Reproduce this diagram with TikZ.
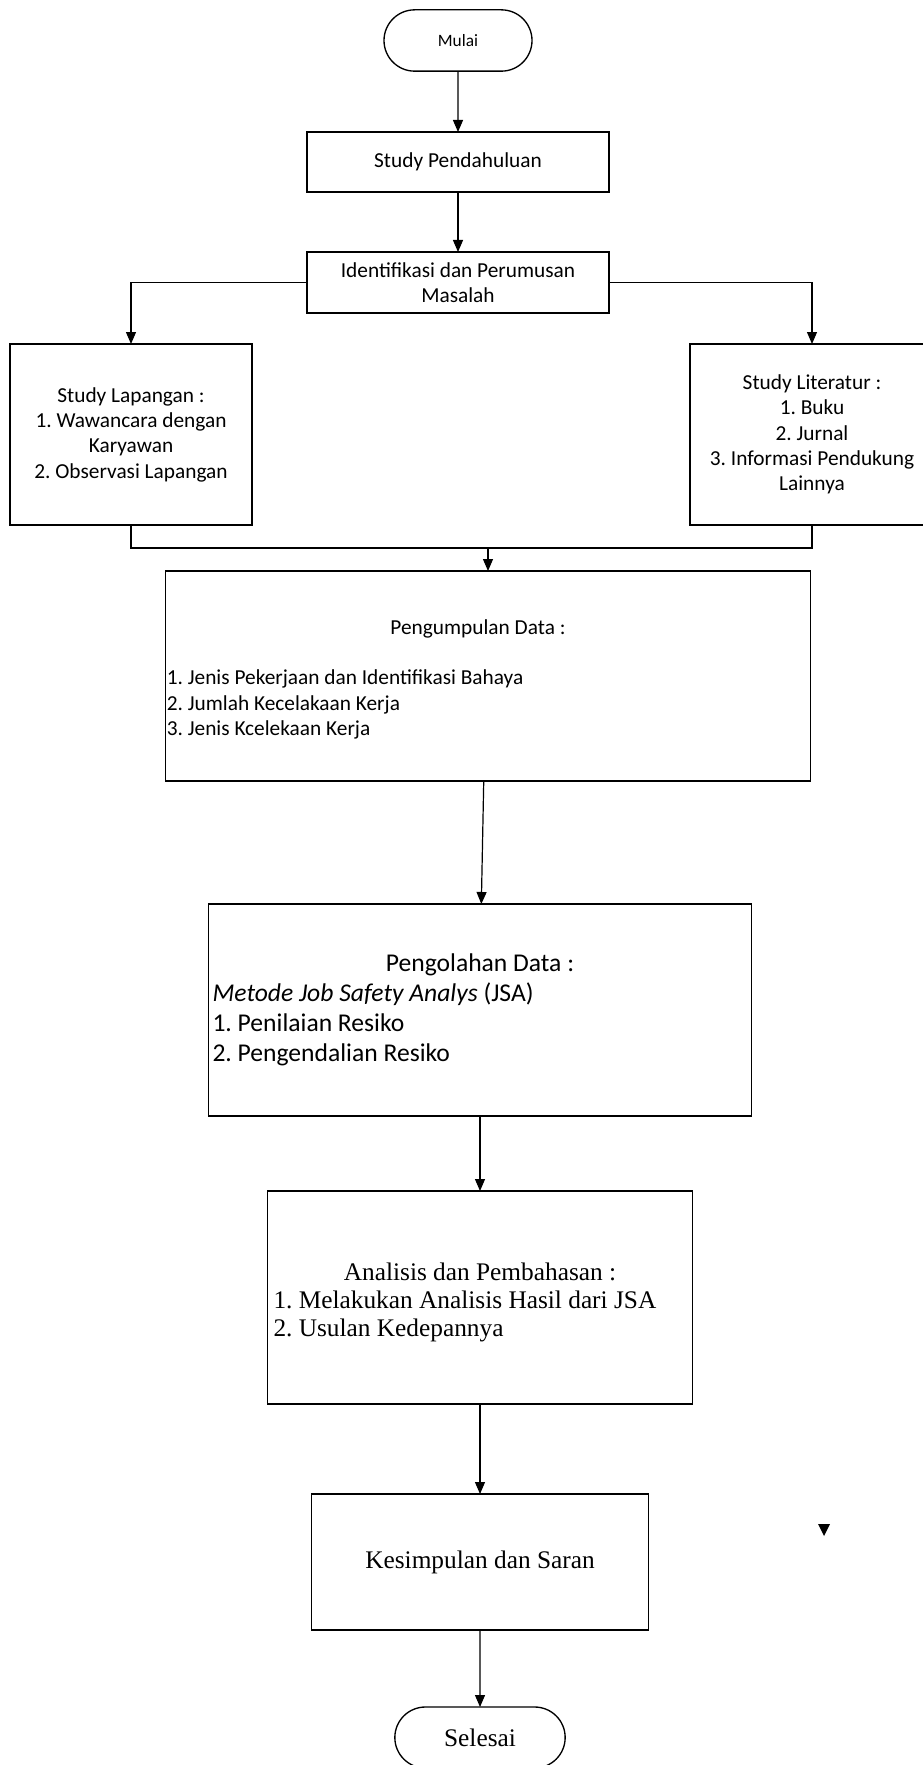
\documentclass[tikz,border=0pt]{standalone}
\usepackage{fontspec}
\setmainfont{Carlito}
\newfontfamily\hurufserif{Liberation Serif}
\usetikzlibrary{arrows.meta,shapes.misc}
\frenchspacing

\begin{document}
\begin{tikzpicture}[x=0.75pt,y=-0.75pt,
  every node/.style={inner sep=1pt, outer sep=0pt},
  kotak/.style={draw, line width=1pt, rectangle},
  ujung/.style={draw, line width=1pt, rounded rectangle},
  panah/.style={line width=0.9pt, -{Triangle[width=7.5pt,length=9pt]}},
  garis/.style={line width=0.9pt},
  huruf/.style={font=\fontsize{16}{19}\selectfont},
  hurufbesar/.style={font=\fontsize{19.2}{22.5}\selectfont},
  hurufserif/.style={font=\hurufserif\fontsize{19}{21}\selectfont},
  ]
\useasboundingbox (0,0) rectangle (922,1765);

\node[ujung, minimum width=113pt, minimum height=46pt,
      font=\fontsize{13}{15}\selectfont] (mulai) at (458,40.5) {Mulai};
\node[kotak, minimum width=226.5pt, minimum height=45pt, huruf] (studi) at (458,162) {Study Pendahuluan};
\node[kotak, minimum width=226.5pt, minimum height=45.75pt, huruf, align=center] (ident) at (458,282.5)
  {Identifikasi dan Perumusan\\Masalah};
\node[kotak, minimum width=181.5pt, minimum height=135.75pt, huruf, align=center] (lapangan) at (131,434.5)
  {Study Lapangan :\\1. Wawancara dengan\\Karyawan\\2. Observasi Lapangan};
\node[kotak, minimum width=183pt, minimum height=135.75pt, huruf, align=center] (literatur) at (812,434.5)
  {Study Literatur :\\1. Buku\\2. Jurnal\\3. Informasi Pendukung\\Lainnya};
\node[kotak, minimum width=483.75pt, minimum height=157.5pt, text width=481.75pt, huruf, align=flush left] (kumpul) at (488,676)
  {{\centering\hspace*{-15pt}\rule{0pt}{16pt}Pengumpulan Data :\par}\vspace{19pt}%
   1. Jenis Pekerjaan dan Identifikasi Bahaya\\
   2. Jumlah Kecelakaan Kerja\\
   3. Jenis Kcelekaan Kerja};
\node[kotak, minimum width=407.25pt, minimum height=159pt, inner xsep=3pt, text width=401.25pt, hurufbesar, align=flush left] (olah) at (480,1010)
  {{\centering Pengolahan Data :\par}%
   \textit{Metode Job Safety Analys} (JSA)\\
   1. Penilaian Resiko\\
   2. Pengendalian Resiko};
\node[kotak, minimum width=318.75pt, minimum height=159.75pt, inner xsep=4.5pt, text width=309.75pt, hurufserif, align=flush left] (analisis) at (480,1297.5)
  {{\centering\rule{0pt}{20.5pt}Analisis dan Pembahasan :\par}%
   1. Melakukan Analisis Hasil dari JSA\\
   2. Usulan Kedepannya};
\node[kotak, minimum width=252.75pt, minimum height=102pt, hurufserif] (simpul) at (480,1562) {Kesimpulan dan Saran};
\node[ujung, minimum width=129.75pt, minimum height=45.75pt, hurufserif] (selesai) at (480,1737.5) {Selesai};

\coordinate (gabung) at (488,548);
\draw[panah] (mulai) -- (studi);
\draw[panah] (studi) -- (ident);
\draw[panah] (ident.west) -| (lapangan.north);
\draw[panah] (ident.east) -| (literatur.north);
\draw[garis] (lapangan.south) |- (gabung) -| (literatur.south);
\draw[panah] (gabung) -- (kumpul.north);
\draw[panah] ([xshift=-3.2pt]kumpul.south) -- ([xshift=1pt]olah.north);
\draw[panah] (olah) -- (analisis);
\draw[panah] (analisis) -- (simpul);
\draw[panah] (simpul) -- (selesai);
\fill (818,1524) -- (830,1524) -- (824,1536) -- cycle;
\end{tikzpicture}
\end{document}
